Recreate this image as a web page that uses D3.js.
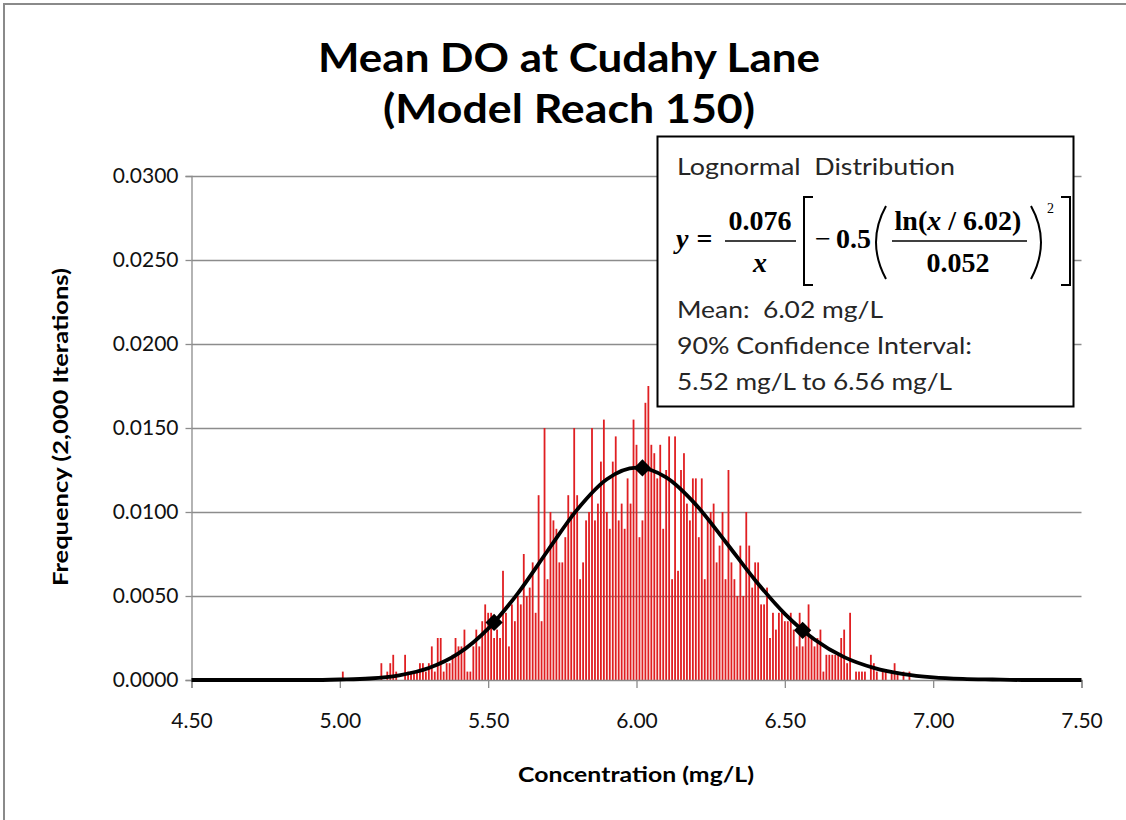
<!DOCTYPE html>
<html>
<head>
<meta charset="utf-8">
<script src="https://cdn.jsdelivr.net/npm/d3@7"></script>
<style>
  html, body { margin: 0; padding: 0; background: #fff; }
  svg { display: block; }
  .pre { white-space: pre; }
</style>
</head>
<body>
<svg id="chart" width="1126" height="820"></svg>
<script>
// Histogram bin centres (mg/L)
const concentration = [
  5.01,5.02,5.03,5.04,5.05,5.06,5.07,5.08,5.09,5.10,
  5.11,5.12,5.13,5.14,5.15,5.16,5.17,5.18,5.19,5.20,
  5.21,5.22,5.23,5.24,5.25,5.26,5.27,5.28,5.29,5.30,
  5.31,5.32,5.33,5.34,5.35,5.36,5.37,5.38,5.39,5.40,
  5.41,5.42,5.43,5.44,5.45,5.46,5.47,5.48,5.49,5.50,
  5.51,5.52,5.53,5.54,5.55,5.56,5.57,5.58,5.59,5.60,
  5.61,5.62,5.63,5.64,5.65,5.66,5.67,5.68,5.69,5.70,
  5.71,5.72,5.73,5.74,5.75,5.76,5.77,5.78,5.79,5.80,
  5.81,5.82,5.83,5.84,5.85,5.86,5.87,5.88,5.89,5.90,
  5.91,5.92,5.93,5.94,5.95,5.96,5.97,5.98,5.99,6.00,
  6.01,6.02,6.03,6.04,6.05,6.06,6.07,6.08,6.09,6.10,
  6.11,6.12,6.13,6.14,6.15,6.16,6.17,6.18,6.19,6.20,
  6.21,6.22,6.23,6.24,6.25,6.26,6.27,6.28,6.29,6.30,
  6.31,6.32,6.33,6.34,6.35,6.36,6.37,6.38,6.39,6.40,
  6.41,6.42,6.43,6.44,6.45,6.46,6.47,6.48,6.49,6.50,
  6.51,6.52,6.53,6.54,6.55,6.56,6.57,6.58,6.59,6.60,
  6.61,6.62,6.63,6.64,6.65,6.66,6.67,6.68,6.69,6.70,
  6.71,6.72,6.73,6.74,6.75,6.76,6.77,6.78,6.79,6.80,
  6.81,6.82,6.83,6.84,6.85,6.86,6.87,6.88,6.89,6.90,6.91,6.92
];

// Share of the 2,000 iterations falling in each bin
const frequency = [
  0.0005,0,0,0,0,0,0,0,0,0,
  0,0,0,0.001,0,0.0005,0.001,0.0015,0.0005,0,
  0,0.0015,0.0005,0.0005,0.0005,0.0005,0.001,0.001,0.0005,0.001,
  0.002,0.0005,0.0025,0.0025,0.0005,0.001,0.001,0.0015,0.0025,0.002,
  0.002,0.003,0.0005,0.0005,0.002,0.003,0.002,0.0035,0.0045,0.004,
  0.004,0.0025,0.003,0.0025,0.0065,0.004,0.002,0.0045,0.0035,0.005,
  0.0045,0.0075,0.005,0.0055,0.007,0.004,0.011,0.0035,0.015,0.006,
  0.01,0.0095,0.009,0.007,0.007,0.0085,0.011,0.01,0.015,0.011,
  0.006,0.007,0.0095,0.01,0.015,0.0095,0.0105,0.013,0.0155,0.01,
  0.009,0.013,0.0145,0.0095,0.0105,0.009,0.012,0.0105,0.0155,0.014,
  0.0085,0.0095,0.0165,0.0175,0.014,0.0135,0.012,0.014,0.009,0.0125,
  0.0145,0.006,0.0145,0.0065,0.0125,0.0135,0.0105,0.0095,0.012,0.012,
  0.0085,0.012,0.006,0.0095,0.01,0.0105,0.007,0.008,0.01,0.006,
  0.0125,0.007,0.006,0.005,0.008,0.005,0.01,0.008,0.0055,0.007,
  0.007,0.0045,0.0045,0.0055,0.0025,0.004,0.003,0.004,0.004,0.0035,
  0.0035,0.004,0.003,0.002,0.004,0.002,0.003,0.0045,0.0025,0.002,
  0.0025,0.003,0.0005,0.0015,0.0015,0.0015,0.0015,0.0015,0.0025,0.003,
  0.001,0.004,0,0.0005,0.0005,0.0005,0.0005,0,0.0015,0.001,
  0.0005,0,0.0005,0.0005,0,0.0005,0.001,0.0005,0,0.0005,0,0.0005
];

// Fitted lognormal curve, sampled along the concentration axis
const fitX = [4.5,4.6,4.7,4.8,4.9,5.0,5.1,5.2,5.3,5.4,5.5,5.6,5.7,5.8,5.9,6.0,
              6.1,6.2,6.3,6.4,6.5,6.6,6.7,6.8,6.9,7.0,7.1,7.2,7.3,7.4,7.5];
const fitY = [0,0,0,0,0,0.00003,0.00009,0.00028,0.00071,0.00158,0.00306,0.00516,
              0.00768,0.01014,0.01195,0.01264,0.01206,0.01044,0.00823,0.00594,
              0.00394,0.00241,0.00136,0.00072,0.00035,0.00016,0.00007,0.00003,0,0,0];

// Mean and 90% confidence limits marked on the curve
const markerX = [5.52, 6.02, 6.56];
const markerY = [0.00343, 0.012625, 0.00296];

// Axis ticks
const xTicks = [4.5, 5.0, 5.5, 6.0, 6.5, 7.0, 7.5];
const yTicks = [0, 0.005, 0.010, 0.015, 0.020, 0.025, 0.030];

const svg = d3.select("#chart");
const sans = "Lato, 'Open Sans', sans-serif";
const serif = "'Liberation Serif', 'DejaVu Serif', serif";

// Stretch or squeeze a text element to a given advance width
function fitWidth(sel, w) {
  sel.attr("textLength", w).attr("lengthAdjust", "spacingAndGlyphs");
  return sel;
}

// Chart frame
svg.append("rect")
  .attr("x", 4).attr("y", 4).attr("width", 1140).attr("height", 840)
  .attr("fill", "#fff").attr("stroke", "#8a8a8a").attr("stroke-width", 2);

// Title
fitWidth(svg.append("text")
  .attr("x", 569).attr("y", 72).attr("text-anchor", "middle")
  .attr("font-family", sans).attr("font-weight", "bold").attr("font-size", 40)
  .text("Mean DO at Cudahy Lane"), 502);
fitWidth(svg.append("text")
  .attr("x", 569).attr("y", 123).attr("text-anchor", "middle")
  .attr("font-family", sans).attr("font-weight", "bold").attr("font-size", 40)
  .text("(Model Reach 150)"), 372);

// Scales
const x = d3.scaleLinear().domain([4.5, 7.5]).range([191.5, 1081.5]);
const y = d3.scaleLinear().domain([0, 0.03]).range([680, 176]);

// Horizontal gridlines
svg.append("g")
  .attr("transform", `translate(${x.range()[0]},0)`)
  .call(d3.axisLeft(y).tickValues(yTicks.slice(1)).tickSize(-(x.range()[1] - x.range()[0])).tickFormat(""))
  .call(g => g.select(".domain").remove())
  .call(g => g.selectAll("line").attr("stroke", "#8c8c8c").attr("stroke-width", 1.3));

// Y axis
const yAxis = svg.append("g")
  .attr("transform", `translate(${x.range()[0]},0)`)
  .call(d3.axisLeft(y).tickValues(yTicks).tickFormat(d3.format(".4f")).tickSize(6).tickPadding(7));
yAxis.select(".domain").attr("stroke", "#8c8c8c").attr("stroke-width", 1.3);
yAxis.selectAll(".tick line").attr("stroke", "#8c8c8c").attr("stroke-width", 1.3);
yAxis.selectAll("text").attr("font-family", sans).attr("font-size", 21).attr("fill", "#111");

// Histogram bars
svg.append("g").selectAll("rect")
  .data(concentration.map((c, i) => ({ c, f: frequency[i] })).filter(d => d.f > 0))
  .join("rect")
  .attr("x", d => x(d.c) - 0.9)
  .attr("width", 1.8)
  .attr("y", d => y(d.f))
  .attr("height", d => y(0) - y(d.f))
  .attr("fill", "#e01f22");

// X axis
const xAxis = svg.append("g")
  .attr("transform", `translate(0,${y(0)})`)
  .call(d3.axisBottom(x).tickValues(xTicks).tickFormat(d3.format(".2f")).tickSize(8).tickPadding(25));
xAxis.select(".domain").attr("stroke", "#8c8c8c").attr("stroke-width", 1.5);
xAxis.selectAll(".tick line").attr("stroke", "#8c8c8c").attr("stroke-width", 1.3);
xAxis.selectAll("text").attr("font-family", sans).attr("font-size", 21).attr("fill", "#111");

// Fitted curve
const line = d3.line()
  .x((d, i) => x(fitX[i]))
  .y(d => y(d))
  .curve(d3.curveMonotoneX);
svg.append("path")
  .attr("d", line(fitY))
  .attr("fill", "none").attr("stroke", "#000").attr("stroke-width", 3.8)
  .attr("stroke-linejoin", "round");

// Diamond markers
svg.append("g").selectAll("path")
  .data(markerX.map((m, i) => [m, markerY[i]]))
  .join("path")
  .attr("d", d3.symbol().type(d3.symbolDiamond2).size(190))
  .attr("transform", d => `translate(${x(d[0])},${y(d[1])})`)
  .attr("fill", "#000");

// Axis titles
fitWidth(svg.append("text")
  .attr("transform", "translate(68,427) rotate(-90)")
  .attr("text-anchor", "middle")
  .attr("font-family", sans).attr("font-weight", "bold").attr("font-size", 20)
  .text("Frequency (2,000 Iterations)"), 318);
fitWidth(svg.append("text")
  .attr("x", 636).attr("y", 782).attr("text-anchor", "middle")
  .attr("font-family", sans).attr("font-weight", "bold").attr("font-size", 20)
  .text("Concentration (mg/L)"), 236);

// Distribution summary box
const box = svg.append("g");
box.append("rect")
  .attr("x", 657.5).attr("y", 136.5).attr("width", 416).attr("height", 270)
  .attr("fill", "#fff").attr("stroke", "#000").attr("stroke-width", 2);

const boxText = (txt, yy, w) => fitWidth(box.append("text")
  .attr("class", "pre")
  .attr("x", 677).attr("y", yy)
  .attr("font-family", sans).attr("font-size", 24).attr("fill", "#262626")
  .text(txt), w);
boxText("Lognormal  Distribution", 175, 278);
boxText("Mean:  6.02 mg/L", 318, 206);
boxText("90% Confidence Interval:", 354, 295);
boxText("5.52 mg/L to 6.56 mg/L", 390, 275);

// Equation of the fitted curve
const eq = box.append("g").attr("font-family", serif).attr("font-weight", "bold").attr("font-size", 28).attr("fill", "#000");
const yEq = eq.append("text").attr("x", 676).attr("y", 248);
yEq.append("tspan").attr("font-style", "italic").text("y");
yEq.append("tspan").attr("dx", 8).text("=");

eq.append("text").attr("x", 760).attr("y", 230).attr("text-anchor", "middle").text("0.076");
eq.append("line").attr("x1", 725).attr("x2", 796).attr("y1", 241).attr("y2", 241).attr("stroke", "#000").attr("stroke-width", 1.6);
eq.append("text").attr("x", 760).attr("y", 272).attr("text-anchor", "middle").attr("font-style", "italic").text("x");

eq.append("path").attr("d", "M813,197 H804 V285 H813").attr("fill", "none").attr("stroke", "#000").attr("stroke-width", 2);
eq.append("text").attr("x", 815).attr("y", 248).attr("font-weight", "normal").text("\u2212");
eq.append("text").attr("x", 836).attr("y", 248).text("0.5");
eq.append("path").attr("d", "M886,206 Q866,242 886,279").attr("fill", "none").attr("stroke", "#000").attr("stroke-width", 2);

const num = eq.append("text").attr("x", 958).attr("y", 230).attr("text-anchor", "middle").attr("class", "pre");
num.append("tspan").text("ln(");
num.append("tspan").attr("font-style", "italic").text("x");
num.append("tspan").text(" / 6.02)");
eq.append("line").attr("x1", 892).attr("x2", 1027).attr("y1", 241).attr("y2", 241).attr("stroke", "#000").attr("stroke-width", 1.6);
eq.append("text").attr("x", 958).attr("y", 272).attr("text-anchor", "middle").text("0.052");
eq.append("path").attr("d", "M1031,206 Q1051,242 1031,279").attr("fill", "none").attr("stroke", "#000").attr("stroke-width", 2);
eq.append("text").attr("x", 1047).attr("y", 213).attr("font-size", 14).attr("font-weight", "normal").text("2");
eq.append("path").attr("d", "M1061,197 H1070 V285 H1061").attr("fill", "none").attr("stroke", "#000").attr("stroke-width", 2);
</script>
</body>
</html>
